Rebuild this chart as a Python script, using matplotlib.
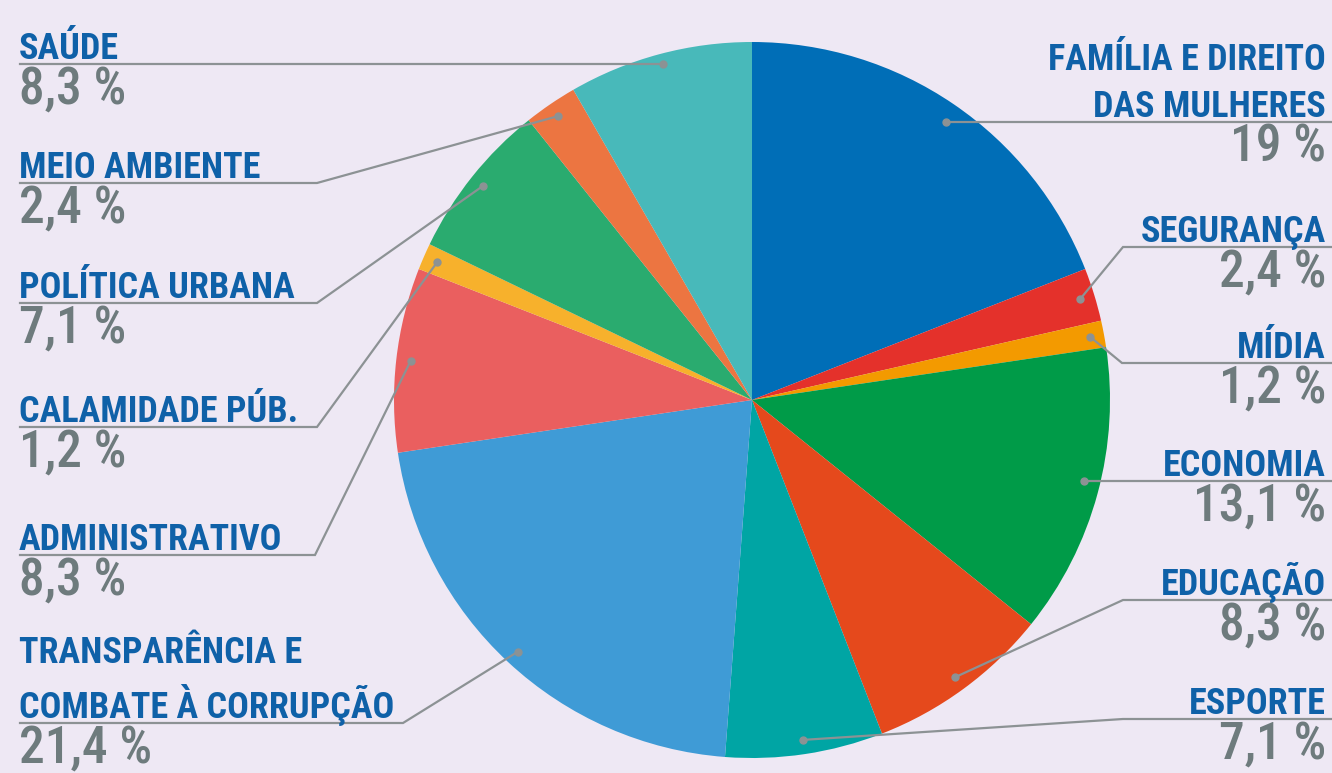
import numpy as np
import matplotlib.pyplot as plt

# data
categories = ["FAMÍLIA E DIREITO\nDAS MULHERES", "SEGURANÇA", "MÍDIA", "ECONOMIA",
              "EDUCAÇÃO", "ESPORTE", "TRANSPARÊNCIA E\nCOMBATE À CORRUPÇÃO",
              "ADMINISTRATIVO", "CALAMIDADE PÚB.", "POLÍTICA URBANA",
              "MEIO AMBIENTE", "SAÚDE"]
shares = [19, 2.4, 1.2, 13.1, 8.3, 7.1, 21.4, 8.3, 1.2, 7.1, 2.4, 8.3]
pct_labels = ["19 %", "2,4 %", "1,2 %", "13,1 %", "8,3 %", "7,1 %", "21,4 %",
              "8,3 %", "1,2 %", "7,1 %", "2,4 %", "8,3 %"]
colors = ["#006EB7", "#E4312B", "#F39A00", "#009B48", "#E5491C", "#00A5A4",
          "#3F9BD6", "#EA5F5F", "#F7B12C", "#2AAB6F", "#EC7541", "#48B9BA"]

# layout (pixels, y measured from top): side, underline y, elbow x
label_layout = [
    ("R", 122, None), ("R", 247, 1123), ("R", 363, 1122), ("R", 481, None),
    ("R", 600, 1123), ("R", 719, 1123), ("L", 723, 403), ("L", 555, 315),
    ("L", 427, 317), ("L", 303, 317), ("L", 183, 317), ("L", 64, None),
]

W, H = 1332, 773
BG = "#EEE8F4"
NAME_C = "#0F61A8"
PCT_C = "#6E7B7D"
LINE_C = "#8C9294"
FONT = ["Roboto Condensed", "DejaVu Sans"]

fig = plt.figure(figsize=(W / 100, H / 100), dpi=100, facecolor=BG)
ax = fig.add_axes([0, 0, 1, 1])
ax.set_facecolor(BG)

cx, cy, R = 752, H - 400, 358
wedges, _ = ax.pie(shares, colors=colors, startangle=90, counterclock=False,
                   center=(cx, cy), radius=R, wedgeprops=dict(linewidth=0))
ax.set_xlim(0, W)
ax.set_ylim(0, H)
ax.set_aspect("equal")
ax.axis("off")

for w, name, pct, (side, ly, ex) in zip(wedges, categories, pct_labels, label_layout):
    mid = np.deg2rad((w.theta1 + w.theta2) / 2)
    y = H - ly
    dx = cx + 0.96 * R * np.cos(mid)
    dy = cy + 0.96 * R * np.sin(mid) if ex else y
    if side == "R":
        xs = [dx, ex, W] if ex else [dx, W]
        ys = [dy, y, y] if ex else [dy, y]
        tx, ha = 1326, "right"
    else:
        xs = [20, ex, dx] if ex else [20, dx]
        ys = [y, y, dy] if ex else [y, dy]
        tx, ha = 19, "left"
    ax.plot(xs, ys, color=LINE_C, lw=1.6, solid_joinstyle="miter", zorder=3)
    ax.plot(dx, dy, "o", color=LINE_C, ms=5, zorder=4)
    ax.text(tx, y - 3, name, ha=ha, va="bottom", color=NAME_C, fontsize=26,
            fontweight="bold", family=FONT, linespacing=1.38,
            multialignment=ha)
    ax.text(tx, y - 1, pct, ha=ha, va="top", color=PCT_C, fontsize=37,
            fontweight="medium", family=FONT)

fig.savefig("out.png", dpi=100, facecolor=BG)
